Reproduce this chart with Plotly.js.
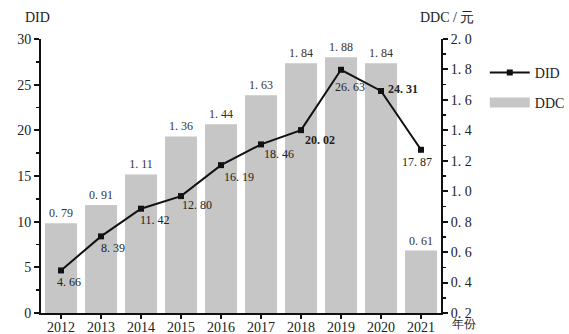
<!DOCTYPE html>
<html>
<head>
<meta charset="utf-8">
<script src="https://cdn.plot.ly/plotly-3.0.1.min.js"></script>
<style>html,body{margin:0;padding:0;background:#fff;}#chart{width:569px;height:334px;}</style>
</head>
<body>
<div id="chart"></div>
<script>
// Yearly series: DID (left axis) and DDC in yuan (right axis)
const years = ['2012', '2013', '2014', '2015', '2016', '2017', '2018', '2019', '2020', '2021'];
const didValues = [4.66, 8.39, 11.42, 12.80, 16.19, 18.46, 20.02, 26.63, 24.31, 17.87];
const ddcValues = [0.79, 0.91, 1.11, 1.36, 1.44, 1.63, 1.84, 1.88, 1.84, 0.61];
const ddcTickVals = [0.2, 0.4, 0.6, 0.8, 1.0, 1.2, 1.4, 1.6, 1.8, 2.0];
const ddcTickText = ['0. 2', '0. 4', '0. 6', '0. 8', '1. 0', '1. 2', '1. 4', '1. 6', '1. 8', '2. 0'];

// Chinese-style decimal spacing, e.g. "1. 84"
const fmt = v => v.toFixed(2).replace('.', '. ');

// Placement of the DID value labels relative to each marker
const didLabelShift = [
  [-6, -12], [-2, -12], [-3, -11], [-1, -9], [1, -12], [1, -10], [2, -10], [-8, -17], [5, 2], [-21, -12]
];
const didLabelBold = [false, false, false, false, false, false, true, false, true, false];

const serif = '"Liberation Serif", "Times New Roman", serif';

const bars = {
  type: 'bar',
  name: 'DDC',
  x: years,
  y: ddcValues,
  yaxis: 'y',
  width: 0.8,
  marker: {color: '#c6c6c6', line: {width: 0}},
  text: ddcValues.map(fmt),
  textposition: 'outside',
  cliponaxis: false,
  textfont: {family: serif, size: 12, color: '#333'},
  showlegend: false,
  hoverinfo: 'skip'
};

const line = {
  type: 'scatter',
  mode: 'lines+markers',
  name: 'DID',
  x: years,
  y: didValues,
  yaxis: 'y2',
  legendgroup: 'did',
  legendrank: 1,
  line: {color: '#111', width: 2},
  marker: {symbol: 'square', size: 6, color: '#111'},
  hoverinfo: 'skip'
};

// Legend key for the bars drawn as a wide grey swatch
const ddcKey = {
  type: 'scatter',
  mode: 'lines',
  name: 'DDC',
  x: [null],
  y: [null],
  yaxis: 'y',
  legendgroup: 'ddc',
  legendrank: 2,
  line: {color: '#c6c6c6', width: 13},
  hoverinfo: 'skip'
};

const didLabels = years.map((yr, i) => ({
  xref: 'x', yref: 'y2', x: i, y: didValues[i],
  text: didLabelBold[i] ? '<b>' + fmt(didValues[i]) + '</b>' : fmt(didValues[i]),
  showarrow: false, xanchor: 'left', yanchor: 'middle',
  xshift: didLabelShift[i][0], yshift: didLabelShift[i][1],
  font: {family: serif, size: 12, color: '#222'}
}));

const axisTitles = [
  {xref: 'paper', yref: 'paper', x: -0.01, y: 1.044, text: 'DID', showarrow: false,
   xanchor: 'center', yanchor: 'bottom', font: {family: serif, size: 14, color: '#222'}},
  {xref: 'paper', yref: 'paper', x: 1.015, y: 1.044, text: 'DDC / 元', showarrow: false,
   xanchor: 'center', yanchor: 'bottom', font: {family: serif, size: 14, color: '#222'}},
  {xref: 'paper', yref: 'paper', x: 1.058, y: -0.073, text: '年份', showarrow: false,
   xanchor: 'center', yanchor: 'bottom', font: {family: serif, size: 12, color: '#222'}}
];

const layout = {
  width: 569,
  height: 334,
  margin: {l: 41, r: 128, t: 39, b: 21, autoexpand: false},
  paper_bgcolor: '#fff',
  plot_bgcolor: '#fff',
  font: {family: serif, size: 14, color: '#222'},
  showlegend: true,
  legend: {
    xref: 'container', yref: 'container',
    x: 0.852, y: 0.83, xanchor: 'left', yanchor: 'top',
    font: {family: serif, size: 14, color: '#222'},
    itemwidth: 40, tracegroupgap: 9
  },
  xaxis: {
    type: 'category',
    range: [-0.5, 9.5],
    showline: true, linecolor: '#111', linewidth: 2,
    ticks: 'outside', ticklen: 4, tickwidth: 2, tickcolor: '#111',
    ticklabelstandoff: -4,
    showgrid: false, zeroline: false,
    tickfont: {family: serif, size: 14, color: '#222'}
  },
  yaxis: {
    side: 'right',
    range: [0.2, 2.0],
    tickvals: ddcTickVals, ticktext: ddcTickText,
    showline: true, linecolor: '#111', linewidth: 2,
    ticks: 'outside', ticklen: 5, tickwidth: 2, tickcolor: '#111',
    minor: {dtick: 0.1, ticks: 'outside', ticklen: 3, tickwidth: 1.5, tickcolor: '#111'},
    showgrid: false, zeroline: false,
    tickfont: {family: serif, size: 14, color: '#222'}
  },
  yaxis2: {
    overlaying: 'y',
    side: 'left',
    range: [0, 30],
    dtick: 5,
    showline: true, linecolor: '#111', linewidth: 2,
    ticks: 'outside', ticklen: 5, tickwidth: 2, tickcolor: '#111',
    minor: {dtick: 2.5, ticks: 'outside', ticklen: 3, tickwidth: 1.5, tickcolor: '#111'},
    showgrid: false, zeroline: false,
    tickfont: {family: serif, size: 14, color: '#222'}
  },
  annotations: didLabels.concat(axisTitles)
};

Plotly.newPlot('chart', [bars, line, ddcKey], layout, {displayModeBar: false, staticPlot: true});
</script>
</body>
</html>
